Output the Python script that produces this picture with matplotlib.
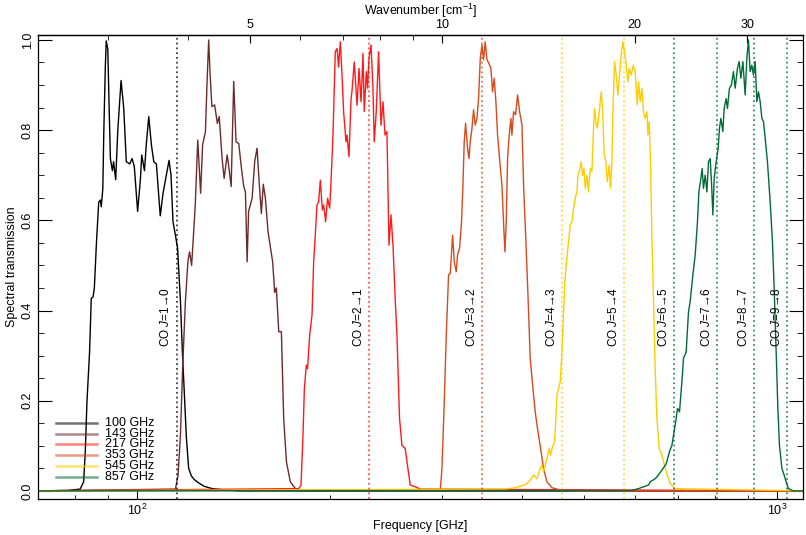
import numpy as np
import matplotlib
matplotlib.use('Agg')
import matplotlib.pyplot as plt
from matplotlib.ticker import FixedLocator, NullFormatter, MultipleLocator

plt.rcParams['font.family'] = ['Liberation Sans', 'DejaVu Sans']
plt.rcParams['mathtext.fontset'] = 'custom'
plt.rcParams['mathtext.rm'] = 'Liberation Sans'
plt.rcParams['mathtext.it'] = 'Liberation Sans:italic'

# transmission curves (frequency in GHz, transmission)
nu100 = [70, 78, 81.5, 82.5, 83.0, 83.5, 84.3, 84.8, 85.35, 85.75, 86.4, 87.1, 87.6, 87.9, 88.4, 88.7,
         89.2, 89.5, 90.0, 90.4, 90.85, 91.5, 91.9, 92.6, 93.3, 94.4, 95.3, 96.2, 97.4, 98.2, 99.0,
         100.2, 101.2, 101.7, 102.7, 103.4, 104.3, 105.3, 106.2, 107.2, 108.7, 109.8, 111.1, 112.2,
         113.0, 113.8, 114.8, 115.7, 116.9, 117.7, 118.6, 119.4, 120.4, 121.6, 122.9, 124.7, 127.4,
         131.1, 137.4, 145.0, 1100]
t100 = [0, 0.001, 0.004, 0.02, 0.087, 0.198, 0.31, 0.427, 0.43, 0.45, 0.55, 0.64, 0.645, 0.63, 0.67,
        0.79, 0.94, 0.998, 0.98, 0.86, 0.737, 0.71, 0.73, 0.69, 0.80, 0.91, 0.85, 0.73, 0.725, 0.737,
        0.72, 0.62, 0.69, 0.745, 0.71, 0.77, 0.83, 0.767, 0.73, 0.725, 0.61, 0.66, 0.70, 0.733, 0.70,
        0.597, 0.567, 0.538, 0.42, 0.31, 0.21, 0.12, 0.05, 0.033, 0.025, 0.018, 0.01, 0.005, 0.002,
        0.0, 0]

nu143 = [70, 114.8, 115.9, 116.9, 117.8, 119.0, 120.1, 120.8, 121.7, 122.6, 123.3, 124.4, 125.1, 125.7,
         126.6, 127.9, 128.6, 129.4, 130.0, 130.9, 132.2, 133.5, 134.4, 135.8, 136.8, 138.3, 139.0,
         140.3, 141.6, 142.8, 144.2, 145.6, 146.8, 147.7, 148.6, 149.4, 151.3, 152.7, 154.0, 155.3,
         156.4, 157.5, 158.7, 160.2, 162.9, 164.1, 165.1, 166.5, 168.1, 169.5, 171.2, 173.6, 176.8,
         180.0, 1100]
t143 = [0, 0.004, 0.035, 0.124, 0.27, 0.42, 0.51, 0.53, 0.50, 0.575, 0.634, 0.778, 0.715, 0.66, 0.767,
        0.797, 0.90, 1.0, 0.93, 0.852, 0.856, 0.815, 0.83, 0.737, 0.693, 0.745, 0.723, 0.675, 0.908,
        0.774, 0.77, 0.715, 0.675, 0.663, 0.508, 0.62, 0.649, 0.73, 0.76, 0.678, 0.615, 0.68, 0.649,
        0.575, 0.508, 0.44, 0.45, 0.353, 0.353, 0.16, 0.064, 0.02, 0.005, 0.0, 0]

nu217 = [70, 178.9, 180.4, 181.7, 182.6, 183.9, 184.7, 186.1, 187.7, 188.8, 189.9, 191.1, 192.2, 193.4,
         194.8, 195.7, 197.1, 198.5, 200.0, 201.0, 202.4, 204.1, 205.4, 206.5, 207.8, 209.1, 210.3,
         212.1, 212.9, 214.4, 216.0, 216.7, 218.5, 220.7, 222.3, 223.9, 225.5, 226.5, 228.2, 229.2,
         230.4, 232.1, 233.7, 234.8, 236.5, 238.5, 240.6, 242.3, 244.1, 245.8, 247.6, 249.4, 251.2,
         253.3, 254.8, 257.2, 259.4, 262.5, 264.2, 267.3, 272.2, 277.1, 1100]
t217 = [0, 0.005, 0.013, 0.124, 0.227, 0.279, 0.271, 0.345, 0.39, 0.508, 0.567, 0.634, 0.641, 0.689,
        0.623, 0.634, 0.597, 0.649, 0.627, 0.686, 0.789, 0.974, 0.981, 0.94, 0.996, 0.922, 0.841,
        0.774, 0.789, 0.741, 0.87, 0.885, 0.951, 0.855, 0.937, 0.863, 0.97, 0.841, 0.93, 0.893, 0.96,
        0.989, 0.893, 0.774, 0.841, 0.974, 0.811, 0.863, 0.789, 0.797, 0.545, 0.612, 0.545, 0.42,
        0.345, 0.16, 0.101, 0.094, 0.064, 0.013, 0.009, 0.004, 0]

nu353 = [70, 297.8, 299.6, 302.1, 304.3, 306.8, 308.7, 311.3, 313.2, 315.4, 316.9, 319.2, 321.5, 323.1,
         324.6, 326.2, 328.5, 330.2, 331.7, 333.8, 335.7, 337.7, 339.8, 341.8, 343.9, 346.0, 348.0,
         350.1, 352.3, 354.8, 357.4, 359.4, 361.6, 363.8, 366.0, 368.6, 371.8, 373.9, 375.8, 377.6,
         379.4, 381.3, 384.0, 385.4, 387.7, 390.5, 393.3, 396.2, 399.6, 401.9, 405.3, 408.3, 411.6,
         415.7, 419.1, 422.6, 426.7, 431.8, 437.2, 445.1, 455.8, 478.3, 1100]
t353 = [0, 0.0015, 0.05, 0.197, 0.345, 0.479, 0.482, 0.567, 0.508, 0.486, 0.523, 0.538, 0.597, 0.678,
        0.774, 0.815, 0.76, 0.737, 0.774, 0.804, 0.845, 0.811, 0.826, 0.87, 0.959, 0.989, 0.956,
        0.996, 0.956, 0.948, 0.937, 0.885, 0.915, 0.863, 0.789, 0.737, 0.678, 0.597, 0.53, 0.597,
        0.737, 0.782, 0.826, 0.789, 0.841, 0.834, 0.878, 0.841, 0.811, 0.678, 0.552, 0.434, 0.294,
        0.227, 0.175, 0.138, 0.10, 0.05, 0.02, 0.007, 0.003, 0.0, 0]

nu545 = [70, 376.2, 390.0, 399.6, 406.8, 411.6, 416.6, 421.7, 426.7, 429.4, 431.8, 437.2, 440.8, 442.8,
         446.0, 449.3, 451.5, 453.2, 455.8, 458.6, 461.4, 464.0, 465.7, 468.0, 471.4, 475.4, 478.3,
         481.0, 484.0, 487.0, 488.7, 491.0, 494.6, 496.9, 499.4, 501.7, 504.8, 507.7, 510.9, 514.0,
         516.4, 518.8, 521.4, 523.9, 527.7, 531.5, 534.0, 537.2, 540.5, 543.1, 547.0, 549.6, 552.4,
         554.4, 557.6, 560.3, 564.4, 567.6, 571.1, 574.6, 577.9, 580.8, 585.1, 587.8, 592.0, 596.3,
         600.6, 605.0, 607.8, 611.5, 615.3, 618.8, 622.6, 626.5, 628.7, 631.7, 634.6, 637.8, 641.5,
         645.4, 649.4, 654.8, 661.2, 667.4, 673.9, 681.3, 693.6, 1100]
t545 = [0, 0.004, 0.007, 0.011, 0.016, 0.024, 0.035, 0.027, 0.05, 0.057, 0.042, 0.072, 0.094, 0.079,
        0.098, 0.109, 0.16, 0.212, 0.227, 0.242, 0.308, 0.39, 0.449, 0.493, 0.538, 0.59, 0.597, 0.626,
        0.649, 0.663, 0.70, 0.708, 0.73, 0.70, 0.715, 0.671, 0.70, 0.663, 0.715, 0.708, 0.789, 0.848,
        0.819, 0.804, 0.841, 0.885, 0.848, 0.745, 0.73, 0.686, 0.723, 0.671, 0.73, 0.848, 0.952,
        0.929, 0.878, 0.922, 0.967, 0.996, 0.974, 0.952, 0.907, 0.937, 0.922, 0.944, 0.93, 0.856,
        0.907, 0.863, 0.893, 0.841, 0.826, 0.841, 0.789, 0.819, 0.73, 0.567, 0.42, 0.271, 0.16, 0.094,
        0.079, 0.057, 0.035, 0.016, 0.005, 0]

nu857 = [70, 593.6, 607.8, 630.1, 633.9, 645.4, 649.4, 661.2, 671.5, 679.5, 685.4, 693.6, 699.4, 704.4,
         710.5, 714.6, 721.5, 727.6, 732.0, 739.2, 745.3, 751.5, 755.3, 760.8, 764.3, 767.9, 772.6,
         777.4, 781.9, 786.6, 790.3, 794.3, 798.1, 803.9, 809.7, 813.4, 817.5, 823.4, 827.2, 833.2,
         837.1, 843.2, 849.2, 855.4, 860.7, 867.8, 873.1, 878.5, 884.9, 892.2, 897.7, 902.8, 908.4,
         914.0, 919.2, 924.9, 930.6, 936.0, 941.7, 947.5, 952.9, 958.8, 966.7, 976.2, 984.3, 990.3,
         997.5, 1003.6, 1009.4, 1018.2, 1026.6, 1034.0, 1042.6, 1061.5, 1100]
t857 = [0, 0.001, 0.005, 0.013, 0.02, 0.027, 0.031, 0.046, 0.06, 0.087, 0.101, 0.146, 0.183, 0.175,
        0.242, 0.294, 0.308, 0.397, 0.42, 0.479, 0.523, 0.597, 0.663, 0.693, 0.715, 0.671, 0.70,
        0.663, 0.73, 0.737, 0.686, 0.612, 0.693, 0.73, 0.76, 0.804, 0.826, 0.797, 0.848, 0.87, 0.848,
        0.893, 0.90, 0.93, 0.893, 0.937, 0.952, 0.915, 0.952, 0.878, 0.959, 1.0, 0.93, 0.944, 0.922,
        0.952, 0.863, 0.885, 0.863, 0.826, 0.819, 0.782, 0.73, 0.641, 0.552, 0.449, 0.308, 0.183,
        0.101, 0.05, 0.035, 0.02, 0.005, 0, 0]

band_names = ['100 GHz', '143 GHz', '217 GHz', '353 GHz', '545 GHz', '857 GHz']
band_colors = ['#000000', '#6e2a2a', '#ff1a1a', '#d64a1c', '#ffcc00', '#006b35']

# CO rotational lines
co_freq = [115.27, 230.54, 345.80, 461.04, 576.27, 691.47, 806.65, 921.80, 1036.91]
co_trans = ['1→0', '2→1', '3→2', '4→3', '5→4', '6→5', '7→6', '8→7', '9→8']
co_band = [0, 2, 3, 4, 4, 5, 5, 5, 5]

c_light = 29.9792458  # GHz per cm^-1

fig = plt.figure(figsize=(8.06, 5.35), dpi=100)
ax = fig.add_axes([0.0471, 0.0673, 0.9496, 0.8673])

curves = [(nu100, t100), (nu143, t143), (nu217, t217), (nu353, t353), (nu545, t545), (nu857, t857)]
for (nu, t), col in zip(curves, band_colors):
    ax.plot(nu, t, color=col, lw=1.0)

for f, tr, b in zip(co_freq, co_trans, co_band):
    ax.axvline(f, color=band_colors[b], ls=':', lw=1.3, alpha=0.75)
    ax.annotate('CO $J$=' + tr, xy=(f, 0.32), xytext=(-3, 0), textcoords='offset points',
                rotation=90, ha='right', va='bottom', fontsize=8.5)

ax.set_xscale('log')
ax.set_xlim(70, 1100)
ax.set_ylim(-0.018, 1.011)

ax.xaxis.set_major_locator(FixedLocator([100, 1000]))
ax.set_xticklabels(['$10^2$', '$10^3$'])
ax.xaxis.set_minor_locator(FixedLocator([70, 80, 90, 200, 300, 400, 500, 600, 700, 800, 900]))
ax.xaxis.set_minor_formatter(NullFormatter())
ax.tick_params(axis='x', which='major', direction='in', length=6.5, top=False, labelsize=9, pad=3)
ax.tick_params(axis='x', which='minor', direction='in', length=3, top=False)

ax.set_yticks([0, 0.2, 0.4, 0.6, 0.8, 1.0])
ax.set_yticklabels(['0.0', '0.2', '0.4', '0.6', '0.8', '1.0'])
ax.yaxis.set_minor_locator(MultipleLocator(0.05))
ax.tick_params(axis='y', which='major', direction='in', length=10, left=True, right=True,
               labelsize=9, pad=3, labelrotation=90)
ax.tick_params(axis='y', which='minor', direction='in', length=4.5, left=True, right=True)
for lab in ax.get_yticklabels():
    lab.set_verticalalignment('center')

for sp in ax.spines.values():
    sp.set_linewidth(0.9)

ax.set_xlabel('Frequency [GHz]', fontsize=9, labelpad=1)
ax.set_ylabel('Spectral transmission', fontsize=9, labelpad=3)

sec = ax.secondary_xaxis('top', functions=(lambda f: f / c_light, lambda w: w * c_light))
sec.set_xticks([5, 10, 20, 30])
sec.set_xticklabels(['5', '10', '20', '30'])
sec.xaxis.set_minor_locator(FixedLocator([3, 4, 6, 7, 8, 9]))
sec.xaxis.set_minor_formatter(NullFormatter())
sec.tick_params(which='major', direction='in', length=6, labelsize=9, pad=3)
sec.tick_params(which='minor', direction='in', length=3.5)
sec.set_xlabel('Wavenumber [cm$^{-1}$]', fontsize=9, labelpad=3)
sec.spines['top'].set_linewidth(0.9)

# legend, drawn by hand so the rows can sit close together
for i, (name, col) in enumerate(zip(band_names, band_colors)):
    yy = 0.1644 - i * 0.0234
    ax.plot([0.0235, 0.0771], [yy, yy], transform=ax.transAxes, color=col, lw=1.8, alpha=0.55)
    ax.text(0.0875, yy, name, transform=ax.transAxes, fontsize=9, va='center', ha='left')

fig.savefig('out.png', dpi=100)
